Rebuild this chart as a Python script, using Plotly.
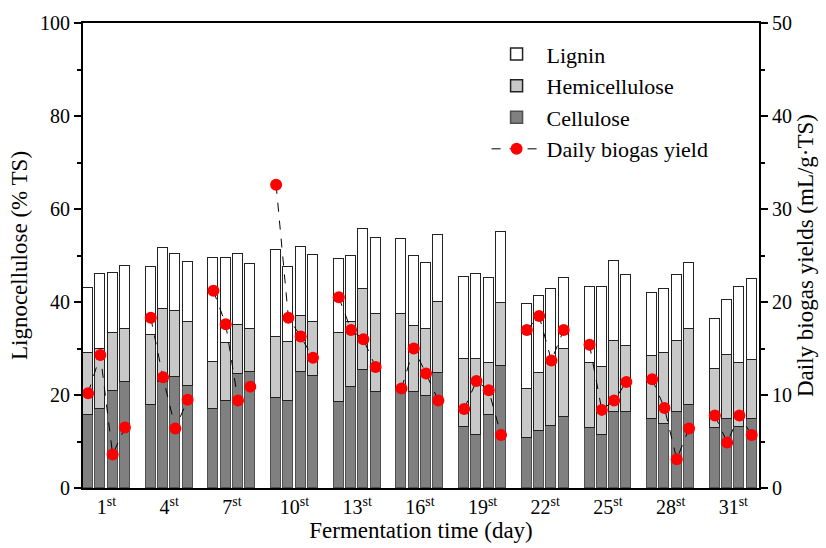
import plotly.graph_objects as go

days = ["1", "4", "7", "10", "13", "16", "19", "22", "25", "28", "31"]
tick_labels = [d + "<sup>st</sup>" for d in days]

cellulose = [
    [15.7, 16.9, 20.8, 22.9],
    [17.8, 22.9, 23.9, 21.9],
    [16.9, 18.8, 24.5, 24.9],
    [19.3, 18.7, 24.9, 24.1],
    [18.4, 21.7, 25.4, 20.7],
    [21.3, 20.7, 19.8, 24.8],
    [13.2, 11.5, 15.8, 26.3],
    [10.8, 12.3, 13.4, 15.2],
    [13.0, 11.5, 16.4, 16.4],
    [14.9, 13.8, 16.4, 17.8],
    [12.8, 14.8, 13.2, 14.8],
]
hemi_top = [
    [29.0, 29.8, 33.3, 34.1],
    [33.0, 38.4, 38.0, 35.6],
    [27.2, 31.1, 35.0, 34.1],
    [32.5, 31.3, 37.0, 35.6],
    [33.4, 35.8, 42.9, 37.5],
    [37.5, 34.8, 34.1, 40.0],
    [27.7, 27.7, 26.9, 39.7],
    [21.3, 24.8, 26.9, 29.9],
    [26.9, 26.1, 31.6, 30.6],
    [28.4, 29.0, 31.6, 34.3],
    [25.6, 28.6, 26.8, 27.5],
]
total_top = [
    [43.0, 46.1, 46.3, 47.8],
    [47.6, 51.6, 50.4, 48.7],
    [49.4, 49.4, 50.4, 48.2],
    [51.1, 47.6, 51.9, 50.1],
    [49.2, 49.8, 55.8, 53.8],
    [53.6, 49.8, 48.4, 54.4],
    [45.4, 46.1, 45.2, 55.1],
    [39.5, 41.2, 42.7, 45.2],
    [43.2, 43.2, 48.9, 45.9],
    [41.9, 42.9, 45.9, 48.3],
    [36.3, 40.4, 43.3, 45.0],
]
biogas = [
    [10.2, 14.3, 3.6, 6.5],
    [18.3, 11.9, 6.4, 9.5],
    [21.2, 17.6, 9.4, 10.9],
    [32.6, 18.3, 16.3, 14.0],
    [20.5, 17.0, 16.0, 13.0],
    [10.7, 15.0, 12.3, 9.4],
    [8.5, 11.5, 10.5, 5.7],
    [17.0, 18.5, 13.7, 17.0],
    [15.4, 8.4, 9.4, 11.4],
    [11.7, 8.6, 3.1, 6.4],
    [7.8, 4.9, 7.8, 5.7],
]

step = 0.196
bw = 0.16

xs, cel, hem, lig = [], [], [], []
bx, by = [], []
for g in range(len(days)):
    for j in range(4):
        x = g + (j - 1.5) * step
        xs.append(x)
        c = cellulose[g][j]
        h = hemi_top[g][j] - c
        l = total_top[g][j] - hemi_top[g][j]
        cel.append(c)
        hem.append(h)
        lig.append(l)
        bx.append(x)
        by.append(biogas[g][j])
    bx.append(None)
    by.append(None)

line_col = "#505050"
font_family = "Liberation Serif, Times New Roman, serif"

fig = go.Figure()
fig.add_trace(go.Bar(x=xs, y=cel, width=bw, name="Cellulose", legendrank=3,
                     marker=dict(color="#808080", line=dict(color=line_col, width=1.5))))
fig.add_trace(go.Bar(x=xs, y=hem, width=bw, name="Hemicellulose", legendrank=2,
                     marker=dict(color="#c8c8c8", line=dict(color="#222222", width=1.5))))
fig.add_trace(go.Bar(x=xs, y=lig, width=bw, name="Lignin", legendrank=1,
                     marker=dict(color="#ffffff", line=dict(color="#222222", width=1.5))))
fig.add_trace(go.Scatter(x=bx, y=by, yaxis="y2", name="Daily biogas yield", legendrank=4,
                         mode="lines+markers", connectgaps=False,
                         line=dict(color="black", width=1, dash="dash"),
                         marker=dict(color="#ff0000", size=12)))

fig.update_layout(
    width=826, height=548,
    margin=dict(l=83, r=66, t=21, b=59),
    barmode="stack",
    bargap=0,
    plot_bgcolor="white",
    paper_bgcolor="white",
    font=dict(family=font_family, size=20, color="black"),
    showlegend=True,
    legend=dict(x=0.597, y=0.978, xanchor="left", yanchor="top",
                traceorder="normal",
                font=dict(size=22, family=font_family),
                bgcolor="rgba(0,0,0,0)", tracegroupgap=0, itemwidth=50),
    xaxis=dict(range=[-0.375, 10.41], tickmode="array",
               tickvals=list(range(len(days))), ticktext=tick_labels,
               showline=True, linecolor="black", linewidth=2, mirror=True,
               ticks="", showgrid=False, zeroline=False,
               title=dict(text="Fermentation time (day)", font=dict(size=23), standoff=2),
               tickfont=dict(size=20)),
    yaxis=dict(range=[0, 100], tickvals=[0, 20, 40, 60, 80, 100],
               showline=True, linecolor="black", linewidth=2,
               ticks="outside", ticklen=7, tickwidth=1.5, tickcolor="black",
               minor=dict(tickvals=[10, 30, 50, 70, 90], ticks="outside", ticklen=4,
                          tickwidth=1.5, tickcolor="black"),
               showgrid=False, zeroline=False,
               title=dict(text="Lignocellulose (% TS)", font=dict(size=23), standoff=6),
               tickfont=dict(size=20)),
    yaxis2=dict(range=[0, 50], tickvals=[0, 10, 20, 30, 40, 50], overlaying="y", side="right",
                showline=True, linecolor="black", linewidth=2,
                ticks="outside", ticklen=7, tickwidth=1.5, tickcolor="black",
                minor=dict(tickvals=[5, 15, 25, 35, 45], ticks="outside", ticklen=4,
                           tickwidth=1.5, tickcolor="black"),
                showgrid=False, zeroline=False,
                title=dict(text="Daily biogas yields (mL/g·TS)", font=dict(size=23), standoff=6),
                tickfont=dict(size=20)),
)

fig.write_html("out.html")
